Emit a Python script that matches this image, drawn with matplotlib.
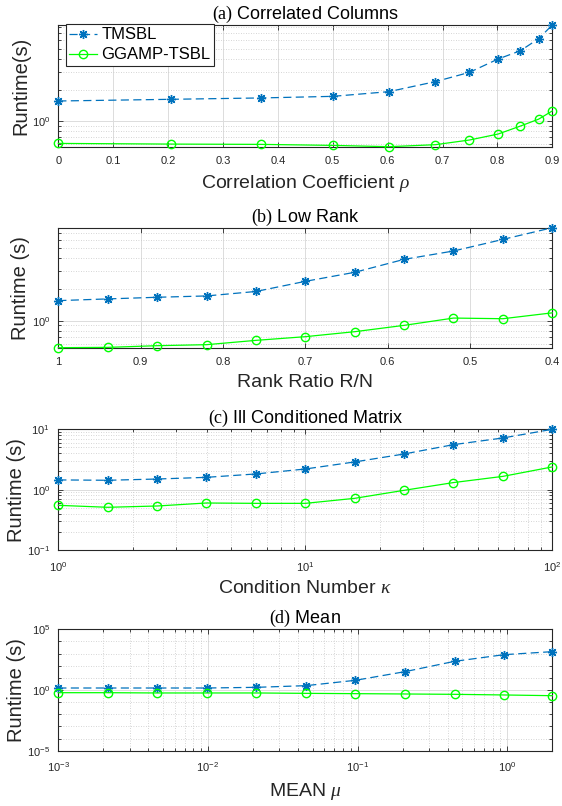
import numpy as np
import matplotlib
matplotlib.use("Agg")
import matplotlib.pyplot as plt
from matplotlib.ticker import FixedLocator, LogLocator, NullFormatter, LogFormatterSciNotation, FuncFormatter

plt.rcParams['font.family'] = ['Liberation Sans', 'DejaVu Sans']
plt.rcParams['mathtext.fontset'] = 'custom'
plt.rcParams['mathtext.rm'] = 'Liberation Serif'
plt.rcParams['mathtext.it'] = 'Liberation Serif:italic'
plt.rcParams['mathtext.bf'] = 'Liberation Serif:bold'

# ---- data ----
series_names = ["TMSBL", "GGAMP-TSBL"]

rho = [0, 0.206, 0.370, 0.500, 0.602, 0.687, 0.749, 0.801, 0.842, 0.875, 0.9]
a_tmsbl = [1.57, 1.63, 1.68, 1.74, 1.93, 2.41, 2.96, 3.97, 4.78, 6.23, 8.44]
a_ggamp = [0.614, 0.605, 0.601, 0.588, 0.571, 0.597, 0.662, 0.755, 0.902, 1.05, 1.26]

rank_ratio = [1.0, 0.94, 0.88, 0.82, 0.76, 0.70, 0.64, 0.58, 0.52, 0.46, 0.40]
b_tmsbl = [1.56, 1.62, 1.68, 1.73, 1.91, 2.39, 2.92, 3.89, 4.68, 6.05, 7.84]
b_ggamp = [0.55, 0.554, 0.575, 0.588, 0.647, 0.702, 0.784, 0.902, 1.06, 1.045, 1.19]

kappa = [1.0, 1.585, 2.512, 3.981, 6.310, 10.0, 15.85, 25.12, 39.81, 63.10, 100.0]
c_tmsbl = [1.45, 1.43, 1.50, 1.60, 1.82, 2.20, 2.88, 3.90, 5.57, 7.18, 10.0]
c_ggamp = [0.55, 0.51, 0.536, 0.601, 0.593, 0.593, 0.718, 0.975, 1.31, 1.66, 2.38]

mu = [0.001, 0.00214, 0.00459, 0.00984, 0.0211, 0.0452, 0.0968, 0.2075, 0.4447, 0.953, 2.0]
d_tmsbl = [1.46, 1.46, 1.46, 1.46, 1.66, 2.28, 6.3, 32.5, 230, 815, 1440]
d_ggamp = [0.60, 0.60, 0.57, 0.57, 0.57, 0.53, 0.50, 0.47, 0.44, 0.39, 0.34]

titles = [r"$\mathrm{(a)}$ Correlated Columns", r"$\mathrm{(b)}$ Low Rank",
          r"$\mathrm{(c)}$ Ill Conditioned Matrix", r"$\mathrm{(d)}$ Mean"]
xlabels = [r"Correlation Coefficient $\rho$", "Rank Ratio R/N",
           r"Condition Number $\kappa$", r"MEAN $\mu$"]
ylabels = ["Runtime(s)", "Runtime (s)", "Runtime (s)", "Runtime (s)"]
a_xticks = [0, 0.1, 0.2, 0.3, 0.4, 0.5, 0.6, 0.7, 0.8, 0.9]
b_xticks = [1, 0.9, 0.8, 0.7, 0.6, 0.5, 0.4]

# ---- style ----
BLUE = "#0072BD"
GREEN = "#00FF00"
AXC = "#262626"
W, H = 562, 806
fig = plt.figure(figsize=(W / 100, H / 100), dpi=100)

left = 58.3 / W
width = 494 / W
boxes = [(25, 146.7), (227.7, 347.7), (429.3, 550), (629.3, 750.7)]
axes = []
for top, bot in boxes:
    axes.append(fig.add_axes([left, 1 - bot / H, width, (bot - top) / H]))


def plot_pair(ax, x, y1, y2):
    ax.plot(x, y1, color=BLUE, lw=0.9, ls=(0, (6.5, 3.5)), marker=(8, 2, 0), ms=6.5,
            mew=1.0, clip_on=False, zorder=3, label=series_names[0])
    ax.plot(x, y2, color=GREEN, lw=0.9, ls='-', marker='o', ms=6, mfc='none',
            mew=1.0, clip_on=False, zorder=3, label=series_names[1])


def style(ax, title, xl, yl):
    ax.set_title(title, fontsize=13, pad=3, color='black')
    ax.set_xlabel(xl, fontsize=14, color=AXC, labelpad=5)
    ax.set_ylabel(yl, fontsize=14.5, color=AXC, labelpad=1)
    for s in ax.spines.values():
        s.set_color(AXC)
        s.set_linewidth(0.8)
    ax.tick_params(which='both', direction='in', top=True, right=True,
                   colors=AXC, labelsize=8, width=0.6)
    ax.tick_params(which='major', length=3.5)
    ax.tick_params(which='major', axis='x', pad=7)
    ax.tick_params(which='major', axis='y', pad=6)
    ax.tick_params(which='minor', length=2)
    ax.grid(True, which='major', color='#dcdcdc', lw=0.7, ls='-')
    ax.grid(True, which='minor', color='#c8c8c8', lw=0.6, ls=(0, (1, 2)))
    ax.set_axisbelow(True)


sci = LogFormatterSciNotation()

# (a)
ax = axes[0]
plot_pair(ax, rho, a_tmsbl, a_ggamp)
ax.set_yscale('log')
ax.set_xlim(min(rho), max(rho))
ax.set_ylim(min(a_ggamp), max(a_tmsbl))
ax.xaxis.set_major_locator(FixedLocator(a_xticks))
ax.xaxis.set_major_formatter(FuncFormatter(lambda v, p: "%g" % v))
ax.yaxis.set_major_locator(FixedLocator([1.0]))
ax.yaxis.set_major_formatter(sci)
ax.yaxis.set_minor_locator(LogLocator(base=10, subs=np.arange(2, 10), numticks=20))
ax.yaxis.set_minor_formatter(NullFormatter())
style(ax, titles[0], xlabels[0], ylabels[0])
ax.grid(False, which='minor', axis='x')
leg = ax.legend(loc='upper left', bbox_to_anchor=(7.4 / 494, 1.008), fontsize=12,
                frameon=True, fancybox=False, edgecolor=AXC, framealpha=1,
                handlelength=1.7, handletextpad=0.25, labelspacing=0.3,
                borderpad=0.2, borderaxespad=0)
leg.get_frame().set_linewidth(0.8)

# (b)
ax = axes[1]
plot_pair(ax, rank_ratio, b_tmsbl, b_ggamp)
ax.set_yscale('log')
ax.set_xlim(max(rank_ratio), min(rank_ratio))
ax.set_ylim(min(b_ggamp), max(b_tmsbl))
ax.xaxis.set_major_locator(FixedLocator(b_xticks))
ax.xaxis.set_major_formatter(FuncFormatter(lambda v, p: "%g" % v))
ax.yaxis.set_major_locator(FixedLocator([1.0]))
ax.yaxis.set_major_formatter(sci)
ax.yaxis.set_minor_locator(LogLocator(base=10, subs=np.arange(2, 10), numticks=20))
ax.yaxis.set_minor_formatter(NullFormatter())
style(ax, titles[1], xlabels[1], ylabels[1])
ax.grid(False, which='minor', axis='x')

# (c)
ax = axes[2]
plot_pair(ax, kappa, c_tmsbl, c_ggamp)
ax.set_xscale('log')
ax.set_yscale('log')
ax.set_xlim(1, 100)
ax.set_ylim(0.1, 10)
for axis in (ax.xaxis, ax.yaxis):
    axis.set_major_locator(LogLocator(base=10, numticks=10))
    axis.set_major_formatter(sci)
    axis.set_minor_locator(LogLocator(base=10, subs=np.arange(2, 10), numticks=20))
    axis.set_minor_formatter(NullFormatter())
style(ax, titles[2], xlabels[2], ylabels[2])

# (d)
ax = axes[3]
plot_pair(ax, mu, d_tmsbl, d_ggamp)
ax.set_xscale('log')
ax.set_yscale('log')
ax.set_xlim(min(mu), max(mu))
ax.set_ylim(1e-5, 1e5)
ax.xaxis.set_major_locator(LogLocator(base=10, numticks=10))
ax.xaxis.set_major_formatter(sci)
ax.xaxis.set_minor_locator(LogLocator(base=10, subs=np.arange(2, 10), numticks=20))
ax.xaxis.set_minor_formatter(NullFormatter())
ax.yaxis.set_major_locator(FixedLocator([1e-5, 1.0, 1e5]))
ax.yaxis.set_major_formatter(sci)
ax.yaxis.set_minor_locator(LogLocator(base=10, subs=(1.0,), numticks=30))
ax.yaxis.set_minor_formatter(NullFormatter())
style(ax, titles[3], xlabels[3], ylabels[3])

fig.savefig("out.png", dpi=100)
